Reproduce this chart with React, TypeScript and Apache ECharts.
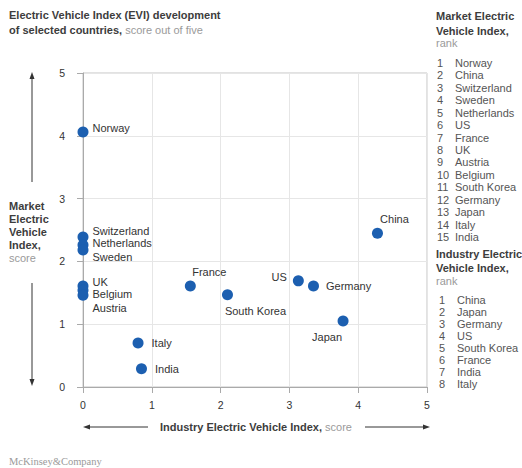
import React, { useEffect, useRef } from "react";
import * as echarts from "echarts";

const countries = ["Norway", "Switzerland", "Netherlands", "Sweden", "UK", "Belgium", "Austria", "Italy", "India", "France", "South Korea", "US", "Germany", "Japan", "China"];
const industryScore = [0, 0, 0, 0, 0, 0, 0, 0.8, 0.85, 1.56, 2.1, 3.13, 3.35, 3.78, 4.28];
const marketScore = [4.06, 2.39, 2.26, 2.18, 1.61, 1.54, 1.46, 0.7, 0.29, 1.61, 1.47, 1.69, 1.61, 1.05, 2.45];
const axisTicks = ["0", "1", "2", "3", "4", "5"];
const marketRank = ["Norway", "China", "Switzerland", "Sweden", "Netherlands", "US", "France", "UK", "Austria", "Belgium", "South Korea", "Germany", "Japan", "Italy", "India"];
const industryRank = ["China", "Japan", "Germany", "US", "South Korea", "France", "India", "Italy"];

const labelPlacement: Record<string, { position: string; offset: number[] }> = {
  Norway: { position: "right", offset: [0, -4] },
  Switzerland: { position: "right", offset: [0, -6] },
  Netherlands: { position: "right", offset: [0, -2] },
  Sweden: { position: "right", offset: [0, 7] },
  UK: { position: "right", offset: [0, -4] },
  Belgium: { position: "right", offset: [0, 4] },
  Austria: { position: "right", offset: [0, 13] },
  Italy: { position: "right", offset: [4, 0] },
  India: { position: "right", offset: [4, 0] },
  France: { position: "top", offset: [19, 1] },
  "South Korea": { position: "bottom", offset: [28, 1] },
  US: { position: "left", offset: [-2, -4] },
  Germany: { position: "right", offset: [3, 0] },
  Japan: { position: "bottom", offset: [-16, 1] },
  China: { position: "top", offset: [17, 1] },
};

const FONT = "Liberation Sans, Arial, sans-serif";
const DARK = "#3d3d3d";
const LIGHT = "#9a9a9a";

export default function App() {
  const ref = useRef<HTMLDivElement>(null);
  useEffect(() => {
    if (!ref.current) return;
    const chart = echarts.init(ref.current, null, { renderer: "svg" });

    const data = countries.map((name, i) => ({
      value: [industryScore[i], marketScore[i]],
      name,
      label: {
        show: true,
        position: labelPlacement[name].position,
        offset: labelPlacement[name].offset,
        distance: 4,
        formatter: "{b}",
      },
    }));

    const graphics: any[] = [];
    const txt = (x: number, y: number, text: string, opts: any = {}) =>
      graphics.push({
        type: "text",
        x,
        y,
        style: {
          text,
          fontFamily: FONT,
          fontSize: opts.size || 11,
          fill: opts.fill || DARK,
          fontWeight: opts.bold ? "bold" : "normal",
          textAlign: opts.align || "left",
          textVerticalAlign: "middle",
          rich: opts.rich,
        },
      });
    const rich = {
      b: { fontFamily: FONT, fontSize: 11, fontWeight: "bold", fill: DARK, color: DARK },
      l: { fontFamily: FONT, fontSize: 11, fontWeight: "normal", fill: LIGHT, color: LIGHT },
    };

    // Title
    txt(9, 15, "Electric Vehicle Index (EVI) development", { bold: true });
    txt(9, 30, "{b|of selected countries,} {l|score out of five}", { rich });

    // Market rank list
    txt(436, 16, "Market Electric", { bold: true });
    txt(436, 31, "Vehicle Index,", { bold: true });
    txt(436, 43, "rank", { fill: LIGHT });
    marketRank.forEach((c, i) => {
      const y = 63 + i * 12.43;
      txt(437, y, String(i + 1), { fill: "#555" });
      txt(455, y, c, { fill: "#555" });
    });
    // Industry rank list
    txt(436, 254, "Industry Electric", { bold: true });
    txt(436, 268, "Vehicle Index,", { bold: true });
    txt(436, 281, "rank", { fill: LIGHT });
    industryRank.forEach((c, i) => {
      const y = 300 + i * 12;
      txt(439, y, String(i + 1), { fill: "#555" });
      txt(457, y, c, { fill: "#555" });
    });

    // Y axis name
    txt(9, 206, "Market", { bold: true });
    txt(9, 219, "Electric", { bold: true });
    txt(9, 232, "Vehicle", { bold: true });
    txt(9, 245, "Index,", { bold: true });
    txt(9, 258, "score", { fill: LIGHT });

    // X axis name
    txt(256, 427, "{b|Industry Electric Vehicle Index,} {l|score}", { rich, align: "center" });

    // Footer
    graphics.push({
      type: "text",
      x: 9,
      y: 461,
      style: {
        text: "McKinsey&Company",
        fontFamily: "Liberation Serif, DejaVu Serif, serif",
        fontSize: 10.5,
        fill: "#9a9a9a",
        textVerticalAlign: "middle",
      },
    });

    const lineStyle = { stroke: "#333", lineWidth: 1 };
    // Vertical arrows
    graphics.push({ type: "line", shape: { x1: 32, y1: 78, x2: 32, y2: 182 }, style: lineStyle });
    graphics.push({ type: "polygon", shape: { points: [[32, 72], [29.5, 79], [34.5, 79]] }, style: { fill: "#333" } });
    graphics.push({ type: "line", shape: { x1: 32, y1: 283, x2: 32, y2: 380 }, style: lineStyle });
    graphics.push({ type: "polygon", shape: { points: [[32, 386], [29.5, 379], [34.5, 379]] }, style: { fill: "#333" } });
    // Horizontal arrows
    graphics.push({ type: "line", shape: { x1: 88, y1: 427, x2: 148, y2: 427 }, style: lineStyle });
    graphics.push({ type: "polygon", shape: { points: [[83, 427], [90, 424.5], [90, 429.5]] }, style: { fill: "#333" } });
    graphics.push({ type: "line", shape: { x1: 365, y1: 427, x2: 425, y2: 427 }, style: lineStyle });
    graphics.push({ type: "polygon", shape: { points: [[430, 427], [423, 424.5], [423, 429.5]] }, style: { fill: "#333" } });

    const axisCommon = {
      min: 0,
      max: 5,
      interval: 1,
      axisLine: { show: true, lineStyle: { color: "#aaa", width: 1 } },
      axisTick: { show: true, length: 6, lineStyle: { color: "#aaa" } },
      splitLine: { show: true, lineStyle: { color: "#e6e6e6", width: 1 } },
      axisLabel: {
        fontFamily: FONT,
        fontSize: 10.5,
        color: "#333",
        formatter: (v: number) => axisTicks[Math.round(v)],
      },
    };

    chart.setOption({
      animation: false,
      backgroundColor: "#fff",
      grid: { left: 83, right: 95, top: 73, bottom: 81, show: true, borderColor: "#c4c4c4", borderWidth: 1 },
      xAxis: { type: "value", ...axisCommon, axisLabel: { ...axisCommon.axisLabel, margin: 12 } },
      yAxis: { type: "value", ...axisCommon, axisLabel: { ...axisCommon.axisLabel, margin: 18 } },
      series: [
        {
          type: "scatter",
          symbolSize: 11,
          itemStyle: { color: "#1c5fb0", opacity: 1 },
          label: { fontFamily: FONT, fontSize: 11, color: "#333" },
          data,
        },
      ],
      graphic: graphics,
    });
    return () => chart.dispose();
  }, []);
  return <div ref={ref} style={{ width: 522, height: 468, position: "absolute", left: 0, top: 0 }} />;
}
